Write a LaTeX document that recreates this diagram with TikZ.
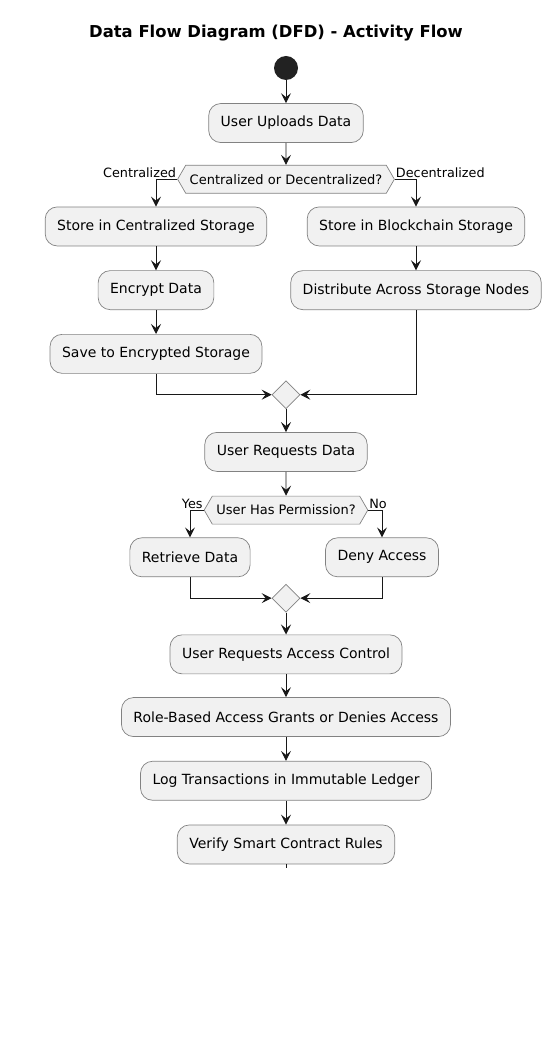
\documentclass[tikz,border=0pt]{standalone}
\usepackage{fontspec}
\setmainfont{DejaVu Sans}
\usepackage{tikz}
\usetikzlibrary{arrows.meta,positioning,shapes.geometric,shapes.symbols,calc}
\usepackage{xcolor}
\definecolor{actfill}{RGB}{241,241,241}
\definecolor{actline}{RGB}{130,130,130}
\definecolor{flowline}{RGB}{24,24,24}
\definecolor{startdark}{RGB}{34,34,34}

\begin{document}
\begin{tikzpicture}[>={Stealth[length=10pt,width=10pt,inset=4pt]},x=1pt,y=1pt,font=\fontsize{14}{16}\selectfont]
\tikzstyle{actnode}=[draw=actline,fill=actfill,line width=0.7pt,rounded corners=12pt,minimum height=39pt,inner xsep=12pt,align=center]
\tikzstyle{decnode}=[draw=actline,fill=actfill,line width=0.7pt,signal,signal to=east and west,signal pointer angle=120,minimum height=28pt,inner xsep=4pt,inner ysep=0pt,font=\fontsize{13}{15}\selectfont]
\tikzstyle{mergenode}=[draw=actline,fill=actfill,line width=0.7pt,diamond,minimum size=28pt,inner sep=0pt]
\tikzstyle{startdot}=[circle,fill=startdark,minimum size=24pt,inner sep=0pt]
\tikzstyle{flow}=[->,draw=flowline,line width=0.9pt]
\tikzstyle{branch}=[font=\fontsize{12.8}{14}\selectfont,inner sep=1pt]

\useasboundingbox (0,0) rectangle (553,-1064);
\node[font=\fontsize{16.4}{18}\selectfont\bfseries] (title) at (276,-33) {Data Flow Diagram (DFD) - Activity Flow};

\node[startdot] (start) at (286,-68) {};
\node[actnode,below=23pt of start] (upl) {User Uploads Data};
\node[decnode,below=22pt of upl] (dec1) {Centralized or Decentralized?};
\node[branch,anchor=south east] at (dec1.west) {Centralized};
\node[branch,anchor=south west] at (dec1.east) {Decentralized};

\node[actnode,below=13pt of dec1,xshift=-130pt] (cst) {Store in Centralized Storage};
\node[actnode,below=24pt of cst] (enc) {Encrypt Data};
\node[actnode,below=24pt of enc] (sav) {Save to Encrypted Storage};
\node[actnode,below=13pt of dec1,xshift=130pt] (bst) {Store in Blockchain Storage};
\node[actnode,below=24pt of bst] (dst) {Distribute Across Storage Nodes};
\node[mergenode] (mrg1) at ($(upl|-sav.south)+(0,-21)$) {};

\node[actnode,below=23pt of mrg1] (req) {User Requests Data};
\node[decnode,below=24pt of req] (dec2) {User Has Permission?};
\node[branch,anchor=south east] at (dec2.west) {Yes};
\node[branch,anchor=south west] at (dec2.east) {No};
\node[actnode,below=13pt of dec2,xshift=-96pt] (ret) {Retrieve Data};
\node[actnode,below=13pt of dec2,xshift=96pt] (dny) {Deny Access};
\node[mergenode] (mrg2) at ($(req|-ret.south)+(0,-21)$) {};

\node[actnode,below=22pt of mrg2] (acc) {User Requests Access Control};
\node[actnode,below=23pt of acc] (rol) {Role-Based Access Grants or Denies Access};
\node[actnode,below=24pt of rol] (logt) {Log Transactions in Immutable Ledger};
\node[actnode,below=24pt of logt] (ver) {Verify Smart Contract Rules};
\coordinate[below=4pt of ver] (stop);

\draw[flow] (start)--(upl);
\draw[flow] (upl)--(dec1);
\draw[flow] (dec1.west)-|(cst);
\draw[flow] (dec1.east)-|(bst);
\draw[flow] (cst)--(enc);
\draw[flow] (enc)--(sav);
\draw[flow] (bst)--(dst);
\draw[flow] (sav.south)|-(mrg1.west);
\draw[flow] (dst.south)|-(mrg1.east);
\draw[flow] (mrg1)--(req);
\draw[flow] (req)--(dec2);
\draw[flow] (dec2.west)-|(ret);
\draw[flow] (dec2.east)-|(dny);
\draw[flow] (ret.south)|-(mrg2.west);
\draw[flow] (dny.south)|-(mrg2.east);
\draw[flow] (mrg2)--(acc);
\draw[flow] (acc)--(rol);
\draw[flow] (rol)--(logt);
\draw[flow] (logt)--(ver);
\draw[draw=flowline,line width=0.9pt] (ver)--(stop);
\end{tikzpicture}
\end{document}
